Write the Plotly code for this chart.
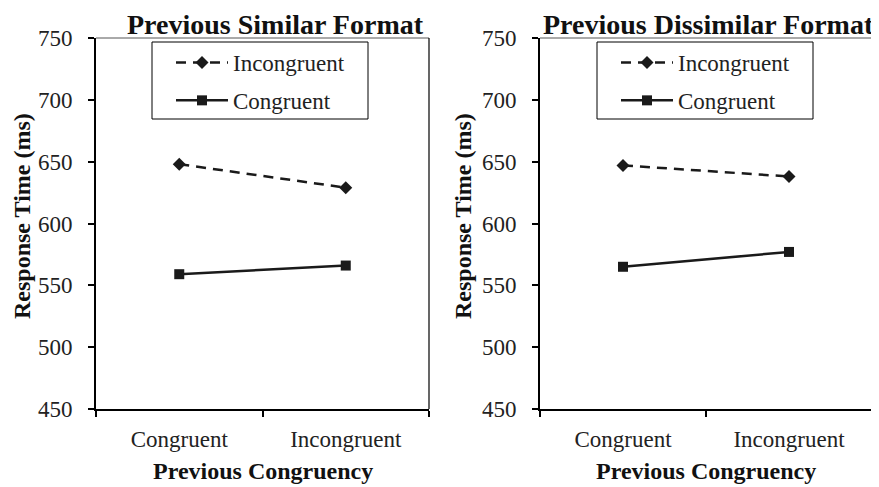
import plotly.graph_objects as go

categories = ["Congruent", "Incongruent"]
sim_incongruent = [648, 629]
sim_congruent = [559, 566]
dis_incongruent = [647, 638]
dis_congruent = [565, 577]
panel_titles = ["Previous Similar Format", "Previous Dissimilar Format"]
y_ticks = [450, 500, 550, 600, 650, 700, 750]
x_title = "Previous Congruency"
y_title = "Response Time (ms)"

FONT = "Liberation Serif, Times New Roman, serif"
OFF = 8  # page body margin
W, H = 879 - OFF, 487 - OFF

def px(x):
    return (x - OFF) / W

def py(y):
    return 1 - (y - OFF) / H

fig = go.Figure()

panels = [
    dict(xa="x", ya="y", xd=[px(96), px(429)], inc=sim_incongruent, con=sim_congruent, leg="legend",
         ytitle_x=22, title_x=275, box=(152, 368)),
    dict(xa="x2", ya="y2", xd=[px(540), px(872)], inc=dis_incongruent, con=dis_congruent, leg="legend2",
         ytitle_x=463, title_x=708, box=(597, 813)),
]
yd = [py(409), py(38)]

for p in panels:
    fig.add_trace(go.Scatter(
        x=categories, y=p["inc"], name="Incongruent", mode="lines+markers",
        line=dict(color="#1a1a1a", width=2.5, dash="10px,7px"),
        marker=dict(symbol="diamond", size=10, color="#1a1a1a"),
        xaxis=p["xa"], yaxis=p["ya"], legend=p["leg"], legendgroup=p["leg"] + "a",
    ))
    fig.add_trace(go.Scatter(
        x=categories, y=p["con"], name="Congruent", mode="lines+markers",
        line=dict(color="#1a1a1a", width=2.5),
        marker=dict(symbol="square", size=10, color="#1a1a1a"),
        xaxis=p["xa"], yaxis=p["ya"], legend=p["leg"], legendgroup=p["leg"] + "b",
    ))

axis_common_x = dict(
    type="category", range=[-0.5, 1.5], tickson="boundaries",
    ticks="outside", ticklen=6, tickwidth=1.5, tickcolor="black",
    showline=True, linecolor="black", linewidth=2, showgrid=False, zeroline=False,
    tickfont=dict(family=FONT, size=23, color="#222"), ticklabelstandoff=8, automargin=False,
)
axis_common_y = dict(
    range=[450, 750], tickvals=y_ticks, ticks="outside", ticklen=6, tickwidth=1.5, tickcolor="black",
    showline=True, linecolor="black", linewidth=2, showgrid=False, zeroline=False,
    tickfont=dict(family=FONT, size=23, color="#222"), ticklabelstandoff=11, automargin=False,
)

legend_common = dict(
    yanchor="top", xanchor="left", y=py(41),
    borderwidth=0, bgcolor="rgba(0,0,0,0)",
    font=dict(family=FONT, size=23, color="#222"), tracegroupgap=5, itemwidth=52,
)

fig.update_layout(
    width=W, height=H, margin=dict(l=0, r=0, t=0, b=0, autoexpand=False),
    paper_bgcolor="white", plot_bgcolor="white",
    xaxis=dict(domain=panels[0]["xd"], anchor="y", **axis_common_x),
    yaxis=dict(domain=yd, anchor="x", **axis_common_y),
    xaxis2=dict(domain=panels[1]["xd"], anchor="y2", **axis_common_x),
    yaxis2=dict(domain=yd, anchor="x2", **axis_common_y),
    legend=dict(x=px(panels[0]["box"][0] + 19), **legend_common),
    legend2=dict(x=px(panels[1]["box"][0] + 19), **legend_common),
    showlegend=True,
)

for p in panels:
    xa, ya = p["xa"], p["ya"]
    # top and right frame borders (thin)
    fig.add_shape(type="line", xref=xa + " domain", yref=ya + " domain",
                  x0=0, x1=1, y0=1, y1=1, line=dict(color="#555", width=1))
    fig.add_shape(type="line", xref=xa + " domain", yref=ya + " domain",
                  x0=1, x1=1, y0=0, y1=1, line=dict(color="black", width=1.2))
    # legend frame
    fig.add_shape(type="rect", xref="paper", yref="paper",
                  x0=px(p["box"][0]), x1=px(p["box"][1]), y0=py(119), y1=py(42),
                  line=dict(color="black", width=1), fillcolor="rgba(0,0,0,0)", layer="above")

for i, p in enumerate(panels):
    fig.add_annotation(text="<b>%s</b>" % panel_titles[i], xref="paper", yref="paper",
                       x=px(p["title_x"]), y=py(8), xanchor="center", yanchor="top",
                       showarrow=False, borderpad=0,
                       font=dict(family=FONT, size=28, color="#111"))
    fig.add_annotation(text="<b>%s</b>" % y_title, xref="paper", yref="paper",
                       x=px(p["ytitle_x"]), y=py(216), xanchor="center", yanchor="middle", textangle=-90,
                       showarrow=False, font=dict(family=FONT, size=24, color="#111"))
    fig.add_annotation(text="<b>%s</b>" % x_title, xref=p["xa"] + " domain", yref="paper",
                       x=0.5, y=py(471), xanchor="center", yanchor="middle",
                       showarrow=False, font=dict(family=FONT, size=24, color="#111"))

fig.write_html("out.html")
